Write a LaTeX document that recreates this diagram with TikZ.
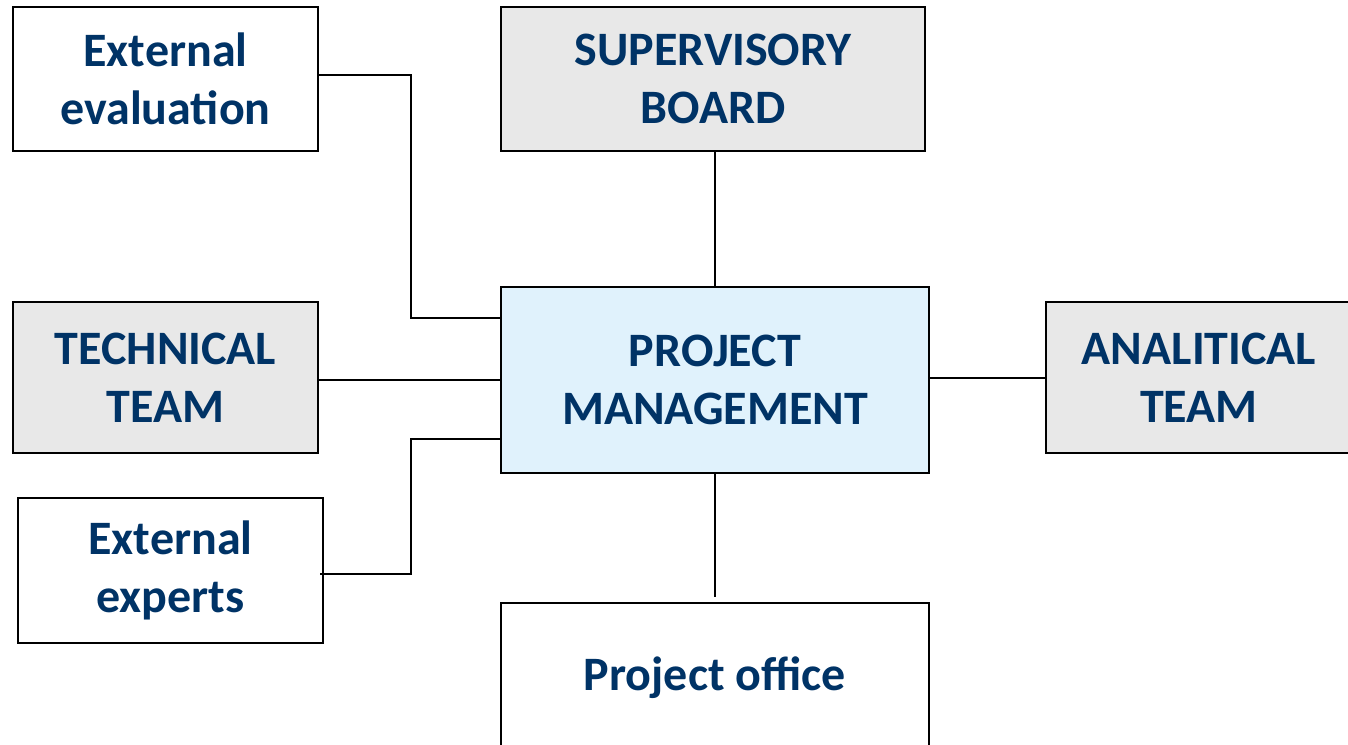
\documentclass[tikz,border=0pt]{standalone}
\usepackage{fontspec}
\setmainfont{Carlito}
\definecolor{navy}{RGB}{0,51,102}
\definecolor{boxgray}{RGB}{232,232,232}
\definecolor{boxblue}{RGB}{224,242,252}
\begin{document}
\begin{tikzpicture}[x=1pt,y=-1pt,
  box/.style={draw=black, line width=2pt, align=center, inner sep=0pt, outer sep=0pt,
    font=\bfseries\fontsize{48}{58}\selectfont, text=navy},
  conn/.style={draw=black, line width=1.3pt}]
\useasboundingbox (0,0) rectangle (1348,744);
\clip (0,0) rectangle (1348,744);
\fill[white] (0,0) rectangle (1348,744);
\node[box, fill=white, minimum width=305pt, minimum height=144pt] (ee) at (165.5,79) {External\\evaluation};
\node[box, fill=boxgray, minimum width=424pt, minimum height=144pt] (sb) at (713,79) {SUPERVISORY\\BOARD};
\node[box, fill=boxblue, minimum width=428pt, minimum height=186pt] (pm) at (715,380) {PROJECT\\MANAGEMENT};
\node[box, fill=boxgray, minimum width=305pt, minimum height=151pt] (tt) at (165.5,377.5) {TECHNICAL\\TEAM};
\node[box, fill=boxgray, minimum width=306pt, minimum height=151pt] (at) at (1199,377.5) {ANALITICAL\\TEAM};
\node[box, fill=white, minimum width=305pt, minimum height=145pt] (ex) at (170.5,570.5) {External\\experts};
\node[box, fill=white, minimum width=428pt, minimum height=150pt] (po) at (715,678) {Project office};
\coordinate (jx) at (411,0);
\coordinate (pmA) at ([yshift=62pt]pm.west);
\coordinate (pmB) at ([yshift=-59pt]pm.west);
\draw[conn] ([yshift=4pt]ee.east) -| (jx |- pmA) -- (pmA);
\draw[conn] ([xshift=-3pt,yshift=-3.5pt]ex.east) -| (jx |- pmB) -- (pmB);
\draw[conn] (tt.east |- pm.west) -- (pm.west);
\draw[conn] ([yshift=2pt]pm.east) -- ([yshift=2pt]pm.east -| at.west);
\draw[conn] (sb.south -| pm.north) -- (pm.north);
\draw[conn] (pm.south) -- ([yshift=6pt]po.north);
\end{tikzpicture}
\end{document}
